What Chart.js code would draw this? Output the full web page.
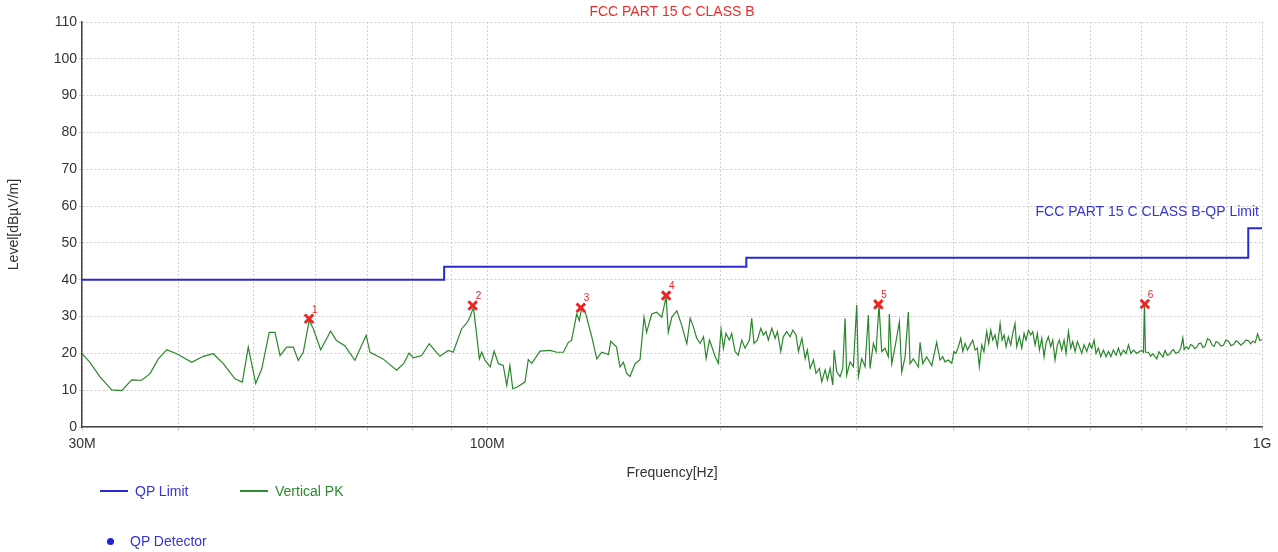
<!DOCTYPE html>
<html>
<head>
<meta charset="utf-8">
<title>FCC PART 15 C CLASS B</title>
<script src="https://cdn.jsdelivr.net/npm/chart.js@4.4.1/dist/chart.umd.min.js"></script>
<style>
  html, body { margin: 0; padding: 0; background: #fff; }
  #wrap { position: relative; width: 1278px; height: 552px; font-family: "Liberation Sans", Arial, sans-serif; }
  #chart { position: absolute; left: 0; top: 0; }
  .legend-item { position: absolute; font-size: 14px; line-height: 16px; white-space: nowrap; }
  .legend-line { display: inline-block; width: 28px; height: 2px; vertical-align: middle; margin-right: 7px; position: relative; top: -1px; }
  .legend-dot { display: inline-block; width: 7px; height: 7px; border-radius: 50%; vertical-align: middle; margin-right: 16px; position: relative; top: -1px; }
</style>
</head>
<body>
<div id="wrap">
  <canvas id="chart" width="1278" height="552"></canvas>
  <div class="legend-item" style="left:100px; top:483px; color:#3535d0;"><span class="legend-line" style="background:#2a2ad2;"></span>QP Limit</div>
  <div class="legend-item" style="left:240px; top:483px; color:#2e8a2e;"><span class="legend-line" style="background:#2e8a2e;"></span>Vertical PK</div>
  <div class="legend-item" style="left:107px; top:533px; color:#3535d0;"><span class="legend-dot" style="background:#2020d8;"></span>QP Detector</div>
</div>
<script>
// Frequencies in MHz, levels in dBuV/m
const chartTitle = 'FCC PART 15 C CLASS B';
const limitName = 'FCC PART 15 C CLASS B-QP Limit';

const limitFreq = [30, 88, 88, 216, 216, 960, 960, 1000];
const limitLevel = [40, 40, 43.5, 43.5, 46, 46, 54, 54];

const pkFreq = [
    30.0, 30.7, 31.65, 32.77, 33.76, 34.77, 35.82, 36.72, 37.64, 38.59,
    39.75, 41.57, 43.02, 44.32, 45.66, 47.26, 48.31, 49.17, 50.27, 51.18,
    52.33, 53.24, 54.04, 55.11, 56.22, 57.04, 57.9, 58.93, 59.66, 60.97,
    62.8, 63.9, 65.5, 67.5, 69.8, 70.6, 73.4, 76.4, 78.0, 79.3,
    80.3, 82.3, 84.2, 86.9, 89.1, 90.4, 92.7, 94.1, 95.0, 96.0,
    96.9, 97.7, 98.4, 99.4, 100.9, 102.1, 103.4, 104.9, 106.0, 107.0,
    107.9, 109.2, 111.9, 113.0, 114.2, 117.0, 120.6, 123.0, 125.4, 127.3,
    128.5, 130.5, 131.5, 132.5, 133.8, 134.4, 136.5, 138.5, 140.6, 143.4,
    144.4, 146.9, 148.4, 149.9, 151.4, 152.9, 155.2, 157.5, 159.4, 160.6,
    163.1, 165.5, 168.0, 170.2, 171.3, 173.1, 175.7, 178.3, 181.0, 182.8,
    184.6, 186.4, 188.3, 190.2, 191.7, 193.6, 195.0, 196.9, 198.8, 200.4,
    201.8, 203.3, 205.4, 206.8, 208.9, 210.9, 213.1, 215.2, 218.0, 219.5,
    221.0, 223.2, 225.5, 227.2, 229.0, 230.6, 233.0, 235.3, 236.9, 239.3,
    241.1, 243.6, 246.0, 248.0, 250.4, 252.2, 254.8, 257.3, 259.0, 261.1,
    263.7, 265.7, 268.4, 270.3, 273.0, 274.9, 277.1, 279.3, 280.4, 282.6,
    285.4, 287.7, 289.7, 291.1, 294.0, 296.9, 299.9, 301.4, 304.4, 307.4,
    310.4, 312.0, 315.1, 317.6, 320.4, 323.0, 326.2, 329.4, 330.4, 332.8,
    336.0, 340.4, 342.8, 346.2, 349.6, 351.4, 354.8, 360.2, 362.0, 364.9,
    369.2, 374.8, 380.3, 384.1, 387.2, 389.8, 393.7, 397.7, 400.4, 402.7,
    405.6, 408.5, 411.0, 413.8, 416.7, 420.0, 423.4, 426.3, 429.2, 431.7,
    434.8, 437.7, 441.2, 443.9, 446.6, 449.3, 452.3, 455.5, 459.2, 461.9,
    464.7, 467.4, 470.6, 474.0, 476.8, 480.0, 482.4, 486.3, 489.7, 493.1,
    496.0, 499.5, 503.0, 506.0, 509.5, 513.0, 516.1, 519.7, 523.3, 526.3,
    530.0, 533.8, 537.0, 540.6, 544.4, 547.7, 551.5, 555.3, 558.6, 562.6,
    566.5, 569.9, 573.8, 577.7, 581.2, 585.3, 589.3, 594.0, 598.8, 603.0,
    607.1, 610.7, 615.0, 619.3, 624.2, 629.1, 633.6, 638.1, 643.0, 648.1,
    652.7, 657.3, 662.4, 667.7, 672.4, 677.2, 682.4, 689.2, 694.8, 698.6,
    703.0, 705.2, 707.2, 713.6, 718.0, 722.9, 731.5, 736.0, 740.3, 745.0,
    749.8, 754.5, 759.6, 764.0, 768.6, 774.0, 780.2, 785.5, 790.4, 793.5,
    798.5, 803.7, 809.0, 814.2, 819.0, 823.7, 828.5, 833.7, 839.0, 844.4,
    850.5, 857.0, 862.0, 867.2, 872.5, 878.6, 885.0, 891.7, 898.5, 905.4,
    912.0, 918.9, 925.5, 932.3, 939.0, 946.2, 953.0, 960.2, 966.5, 972.7,
    980.0, 987.0, 993.5, 1000
];
const pkLevel = [
    19.9, 17.6, 13.6, 10.1, 9.9, 12.8, 12.7, 14.5, 18.5, 21.0,
    19.9, 17.6, 19.2, 19.9, 17.2, 13.1, 12.2, 21.7, 11.8, 15.8,
    25.7, 25.7, 19.4, 21.7, 21.7, 18.1, 20.3, 28.9, 26.7, 21.0,
    26.0, 23.5, 22.1, 18.1, 24.9, 20.3, 18.5, 15.4, 17.2, 20.1,
    18.8, 19.4, 22.6, 19.2, 20.8, 20.3, 26.7, 28.2, 29.8, 32.5,
    25.3, 18.5, 20.3, 18.1, 16.3, 20.6, 17.2, 16.7, 11.3, 16.7,
    10.4, 10.8, 12.2, 18.3, 17.3, 20.6, 20.8, 20.3, 20.3, 23.0,
    23.5, 30.7, 28.9, 32.5, 31.2, 29.8, 24.4, 18.5, 20.3, 19.7,
    23.3, 21.7, 16.3, 17.6, 14.5, 13.7, 17.2, 18.3, 29.8, 25.7,
    30.7, 31.2, 29.8, 35.4, 25.7, 29.8, 31.6, 27.6, 22.6, 29.5,
    27.2, 24.1, 22.7, 24.5, 18.6, 23.6, 21.8, 19.1, 17.3, 26.5,
    21.4, 25.4, 23.6, 25.4, 20.5, 19.5, 23.6, 21.4, 23.6, 29.5,
    22.7, 23.6, 26.8, 25.0, 25.9, 23.6, 26.8, 24.1, 25.9, 20.5,
    24.5, 25.9, 24.5, 26.3, 25.0, 20.5, 24.1, 18.6, 20.9, 15.9,
    18.2, 14.6, 15.9, 12.3, 15.5, 12.8, 15.9, 11.4, 20.9, 15.0,
    13.7, 15.9, 29.5, 14.1, 17.7, 16.4, 33.1, 13.7, 18.6, 16.4,
    30.4, 15.9, 22.7, 20.5, 33.1, 20.5, 21.4, 19.1, 30.7, 17.2,
    21.7, 28.5, 14.9, 19.0, 31.2, 17.2, 18.5, 16.3, 23.0, 17.2,
    19.0, 16.7, 23.0, 18.2, 19.1, 17.7, 18.2, 17.3, 20.5, 20.0,
    21.8, 24.1, 20.5, 22.7, 20.9, 22.3, 23.6, 20.9, 21.4, 16.4,
    22.3, 20.5, 25.9, 22.7, 26.3, 23.6, 25.0, 21.8, 28.1, 23.6,
    25.0, 21.8, 24.5, 22.3, 25.4, 28.1, 21.8, 24.5, 21.4, 25.4,
    23.6, 26.3, 25.0, 25.9, 22.3, 25.4, 20.9, 24.1, 19.1, 22.7,
    24.5, 21.8, 23.6, 18.2, 22.3, 23.6, 20.9, 23.6, 20.0, 25.9,
    21.4, 23.2, 20.5, 23.2, 21.8, 20.0, 22.3, 20.5, 22.7, 21.4,
    23.6, 20.0, 21.4, 19.1, 20.9, 19.1, 20.5, 19.1, 20.9, 19.5,
    21.4, 19.5, 20.9, 20.0, 22.3, 20.0, 20.9, 20.0, 20.5, 20.8,
    20.3, 33.6, 20.3, 20.3, 19.2, 19.9, 18.5, 20.4, 19.7, 19.0,
    20.8, 19.5, 19.7, 20.6, 21.0, 20.0, 20.3, 21.4, 24.2, 21.0,
    21.8, 21.2, 22.4, 22.1, 21.3, 21.7, 22.6, 22.8, 21.6, 21.9,
    24.0, 23.5, 22.3, 21.9, 23.2, 22.9, 22.0, 22.2, 23.6, 23.3,
    22.1, 22.4, 23.4, 23.0, 22.2, 22.8, 23.6, 23.5, 22.6, 23.3,
    22.9, 25.3, 23.5, 23.7
];

const markerFreq = [58.9, 95.8, 132.1, 170.2, 319.8, 706];
const markerLevel = [29.4, 33.0, 32.4, 35.7, 33.3, 33.4];

const gridFreqs = [30, 40, 50, 60, 70, 80, 90, 100, 200, 300, 400, 500, 600, 700, 800, 900, 1000];
const tickNames = { 30: '30M', 100: '100M', 1000: '1G' };

const fontFamily = '"Liberation Sans", Arial, sans-serif';
const limitColor = '#2a2ad2';
const pkColor = '#2a862a';
const markerColor = '#ee2424';

function toPoints(xs, ys) {
    return xs.map((x, i) => ({ x: x, y: ys[i] }));
}

// title, limit name and marker numbers
const labelsPlugin = {
    id: 'labels',
    afterDatasetsDraw(chart) {
        const { ctx, chartArea, scales } = chart;
        ctx.save();
        ctx.font = '14px ' + fontFamily;
        ctx.textBaseline = 'middle';
        ctx.fillStyle = '#ee2a2a';
        ctx.textAlign = 'center';
        ctx.fillText(chartTitle, (chartArea.left + chartArea.right) / 2, 12);

        ctx.fillStyle = '#3535d0';
        ctx.textAlign = 'right';
        ctx.fillText(limitName, chartArea.right - 3, scales.y.getPixelForValue(46) - 45);

        ctx.font = '10px ' + fontFamily;
        ctx.fillStyle = markerColor;
        ctx.textAlign = 'left';
        markerFreq.forEach((f, i) => {
            ctx.fillText(String(i + 1), scales.x.getPixelForValue(f) + 3, scales.y.getPixelForValue(markerLevel[i]) - 9);
        });
        ctx.restore();
    }
};

Chart.defaults.font.family = fontFamily;
Chart.defaults.font.size = 14;
Chart.defaults.color = '#333';

new Chart(document.getElementById('chart'), {
    type: 'line',
    data: {
        datasets: [
            {
                label: 'QP Detector markers',
                type: 'scatter',
                data: toPoints(markerFreq, markerLevel),
                pointStyle: 'crossRot',
                pointRadius: 6,
                pointBorderWidth: 3,
                borderColor: markerColor,
                backgroundColor: markerColor,
                showLine: false,
                order: 0
            },
            {
                label: 'QP Limit',
                data: toPoints(limitFreq, limitLevel),
                borderColor: limitColor,
                borderWidth: 2,
                pointRadius: 0,
                tension: 0,
                order: 1
            },
            {
                label: 'Vertical PK',
                data: toPoints(pkFreq, pkLevel),
                borderColor: pkColor,
                borderWidth: 1.2,
                pointRadius: 0,
                tension: 0,
                order: 2
            }
        ]
    },
    options: {
        responsive: false,
        animation: false,
        layout: {
            padding: { top: 22, right: 16, bottom: 70, left: 0 }
        },
        scales: {
            x: {
                type: 'logarithmic',
                min: 30,
                max: 1000,
                afterBuildTicks: (scale) => {
                    scale.ticks = gridFreqs.map(v => ({ value: v }));
                },
                afterFit: (scale) => { scale.height = 55; },
                ticks: {
                    autoSkip: false,
                    maxRotation: 0,
                    padding: 5,
                    color: '#333',
                    callback: (value) => tickNames[value] || ''
                },
                grid: { color: '#cfcfcf', lineWidth: 1, tickLength: 4 },
                border: { color: '#444', width: 1.5, dash: [2, 2] },
                title: {
                    display: true,
                    text: 'Frequency[Hz]',
                    color: '#333',
                    padding: { top: 0, bottom: 0 }
                }
            },
            y: {
                min: 0,
                max: 110,
                afterFit: (scale) => { scale.width = 82; },
                ticks: { stepSize: 10, padding: 2, color: '#333' },
                grid: { color: '#cfcfcf', lineWidth: 1, tickLength: 3 },
                border: { color: '#444', width: 1.5, dash: [2, 2] },
                title: {
                    display: true,
                    text: 'Level[dBµV/m]',
                    color: '#333',
                    padding: { top: 6, bottom: 0 }
                }
            }
        },
        plugins: {
            legend: { display: false },
            tooltip: { enabled: false }
        }
    },
    plugins: [labelsPlugin]
});
</script>
</body>
</html>
